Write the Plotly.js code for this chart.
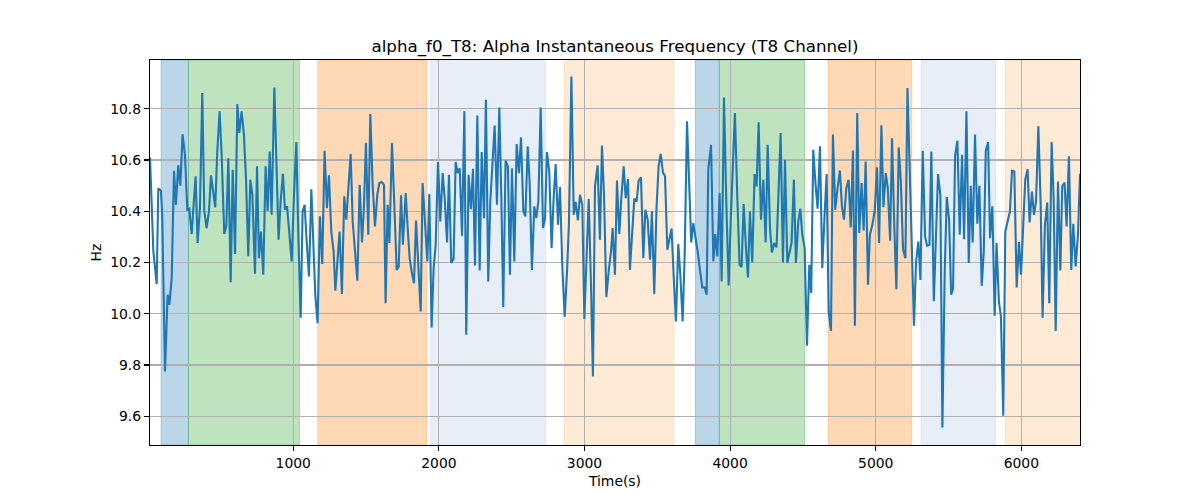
<!DOCTYPE html>
<html><head><meta charset="utf-8">
<script src="https://cdn.plot.ly/plotly-3.0.1.min.js"></script>
<style>body{margin:0;background:#fff}#chart{width:1200px;height:500px}</style>
</head><body><div id="chart"></div>
<script>
// Time (s) of each sample
const times = [
16,39,62,73,91,100,119,137,149,165,181,194,210,224,240,256,272,286,302,313,329,343,359,375,389,405,421,435,451,464,478,494,508,526,540,554,570,584,600,616,629,645,661,675,691,705,719,737,751,764,778,794,810,
824,838,851,870,883,899,913,929,943,957,970,989,1005,1021,1034,1051,1064,1078,1092,1108,1124,1137,1151,1167,1183,1199,1215,1231,1245,1261,1277,1289,1305,1318,1334,1350,1364,1380,1394,1408,1424,1440,1456,1472,1485,1499,1515,1529,1545,1561,1577,1591,1607,1623,1634,
1648,1660,1678,1694,1710,1724,1740,1753,1772,1785,1799,1813,1829,1843,1859,1875,1888,1905,1921,1934,1950,1964,1978,1994,2010,2026,2040,2056,2069,2085,2101,2115,2129,2143,2159,2175,2188,2204,2220,2234,2248,2264,2280,2294,2310,2323,2339,2353,2367,2383,2399,2415,2429,2442,2458,2474,2488,
2502,2518,2534,2550,2564,2580,2594,2610,2623,2639,2655,2669,2683,2699,2715,2729,2742,2758,2774,2788,2802,2818,2832,2848,2864,2880,2893,2910,2926,2939,2955,2969,2985,2999,3013,3029,3045,3058,3072,3090,3106,3120,3134,3150,3166,3182,3193,3209,3223,3239,3253,3269,3283,3299,3312,
3326,3342,3358,3372,3388,3404,3418,3434,3450,3463,3479,3495,3509,3523,3539,3553,3569,3582,3598,3612,3628,3644,3658,3674,3688,3704,3720,3733,3747,3763,3777,3793,3809,3825,3839,3850,3869,3885,3898,3912,3928,3942,3958,3974,3990,4004,4020,4033,4049,4065,4079,4093,4109,4123,4136,
4152,4168,4182,4196,4212,4228,4244,4258,4274,4287,4303,4319,4333,4347,4363,4377,4393,4406,4422,4438,4452,4468,4482,4496,4512,4528,4544,4557,4571,4587,4601,4617,4633,4649,4663,4677,4693,4706,4722,4738,4754,4768,4782,4798,4814,4828,4844,4857,4873,4887,4903,4917,4931,4947,4960,
4977,4993,5009,5023,5039,5053,5069,5083,5099,5112,5128,5142,5158,5172,5188,5204,5218,5234,5250,5263,5277,5293,5307,5323,5339,5353,5369,5382,5399,5412,5428,5444,5458,5474,5488,5504,5518,5531,5545,5561,5577,5593,5607,5623,5639,5653,5666,5682,5698,5712,5728,5742,5756,5772,5785,
5801,5817,5830,5846,5860,5876,5890,5906,5922,5936,5952,5968,5984,5998,6014,6027,6043,6057,6073,6087,6101,6117,6133,6146,6162,6178,6192,6208,6222,6236,6252,6268,6281,6297,6311,6327,6343,6357,6373,6389,6403
];
// Alpha instantaneous frequency (Hz)
const freqHz = [
10.61,10.243,10.116,10.49,10.48,10.386,9.775,10.074,10.035,10.139,10.558,10.425,10.579,10.50,10.70,10.62,10.406,10.41,10.311,10.412,10.536,10.276,10.412,10.861,10.40,10.334,10.40,10.54,10.464,10.415,10.633,10.79,10.62,10.311,10.341,10.607,10.123,10.562,10.233,10.818,10.705,10.79,10.699,10.53,10.224,10.523,10.464,10.156,10.575,10.217,10.321,10.152,10.575,
10.40,10.633,10.386,10.883,10.62,10.289,10.438,10.546,10.406,10.419,10.334,10.204,10.464,10.67,10.321,9.985,10.40,10.425,10.282,10.145,10.486,10.269,10.074,9.963,10.38,10.194,10.636,10.412,10.54,10.321,10.243,10.09,10.217,10.321,10.077,10.458,10.367,10.49,10.623,10.36,10.243,10.129,10.503,10.278,10.412,10.666,10.308,10.779,10.503,10.341,10.464,10.51,10.514,10.503,10.041,
10.425,10.276,10.666,10.425,10.171,10.184,10.462,10.269,10.471,10.341,10.217,10.165,10.119,10.364,10.178,10.009,10.51,10.347,10.204,10.467,9.946,10.178,10.269,10.592,10.36,10.549,10.451,10.278,10.542,10.198,10.214,10.592,10.549,10.568,10.304,10.79,9.918,10.542,10.408,10.566,10.188,10.773,10.169,10.631,10.373,10.835,10.126,10.438,10.568,10.734,10.425,10.805,10.451,10.026,10.597,10.575,10.152,
10.568,10.204,10.662,10.549,10.688,10.40,10.38,10.653,10.516,10.171,10.419,10.373,10.438,10.805,10.334,10.373,10.631,10.555,10.256,10.451,10.584,10.347,10.494,10.178,9.989,10.165,10.347,10.926,10.386,10.436,10.364,10.464,10.425,9.98,10.243,10.449,10.10,9.755,10.497,10.579,10.289,10.656,10.464,10.065,10.165,10.243,10.334,10.152,10.52,10.311,10.451,10.575,10.451,10.525,10.171,
10.308,10.449,10.438,10.519,10.532,10.217,10.406,10.367,10.211,10.40,10.077,10.419,10.575,10.624,10.551,10.536,10.25,10.289,10.332,10.152,9.97,10.272,10.152,9.97,10.23,10.751,10.49,10.278,10.354,10.302,10.243,10.171,10.103,10.103,10.074,10.562,10.659,10.204,10.311,10.224,10.471,10.126,10.844,10.432,10.11,10.36,10.62,10.783,10.464,10.191,10.182,10.428,10.256,10.142,10.40,
10.20,10.545,10.497,10.747,10.367,10.523,10.278,10.659,10.334,10.239,10.276,10.259,10.49,10.705,10.20,10.601,10.198,10.23,10.276,10.523,10.198,10.36,10.41,10.308,10.256,9.875,10.191,10.08,10.64,10.503,10.41,10.653,10.178,10.386,10.545,10.009,9.933,10.699,10.406,10.49,10.559,10.419,10.367,10.49,10.523,10.337,10.637,9.953,10.783,10.315,10.51,10.325,10.594,10.113,10.308,
10.347,10.40,10.571,10.276,10.735,10.416,10.549,10.49,10.285,10.685,10.334,10.096,10.649,10.523,10.25,10.217,10.881,10.568,10.289,9.953,10.204,10.282,10.132,10.636,10.302,10.265,10.269,10.633,10.05,10.295,10.545,10.464,9.556,10.168,10.455,10.367,10.074,10.096,10.617,10.675,10.308,10.62,10.291,10.79,10.198,10.499,10.278,10.699,10.351,10.499,10.109,10.243,10.636,10.67,10.295,
10.419,9.992,10.276,10.048,9.989,9.602,10.321,10.363,10.40,10.558,10.555,10.103,10.28,10.152,10.373,10.523,10.564,10.356,10.477,10.386,10.438,10.731,10.425,9.985,10.347,10.434,10.041,10.67,10.451,9.933,10.516,10.169,10.497,10.512,10.341,10.614,10.171,10.351,10.185,10.308,10.546
];
// Shaded intervals (start, end, colour class)
const spanStart = [92, 280, 1168, 1944, 2860, 3762, 3926, 4673, 5311, 5889];
const spanEnd   = [280, 1042, 1916, 2733, 3615, 3926, 4513, 5248, 5825, 6410];
const spanKind  = ['blue','green','orange','lightblue','lightorange','blue','green','orange','lightblue','lightorange'];
const kindRGB = {
  blue: '31,119,180', green: '44,160,44', orange: '255,127,14',
  lightblue: '174,199,232', lightorange: '255,187,120'
};

const shapes = spanStart.map((s, i) => ({
  type: 'rect', xref: 'x', yref: 'paper', x0: s, x1: spanEnd[i], y0: 0, y1: 1,
  fillcolor: 'rgba(' + kindRGB[spanKind[i]] + ',0.3)',
  line: {color: 'rgba(' + kindRGB[spanKind[i]] + ',0.3)', width: 1},
  layer: 'below'
}));

const trace = {
  x: times, y: freqHz, type: 'scatter', mode: 'lines',
  line: {color: '#1f77b4', width: 2.1}, hoverinfo: 'skip'
};

const font = {family: 'DejaVu Sans, sans-serif', size: 13.9, color: '#000'};
const layout = {
  width: 1200, height: 500,
  margin: {l: 150, r: 120, t: 60, b: 55, pad: 0},
  paper_bgcolor: '#fff', plot_bgcolor: '#fff',
  font: font,
  showlegend: false,
  title: {
    text: 'alpha_f0_T8: Alpha Instantaneous Frequency (T8 Channel)',
    font: {family: 'DejaVu Sans, sans-serif', size: 16.7, color: '#000'},
    x: 0.5125, xanchor: 'center', xref: 'container',
    y: 1 - 46/500, yanchor: 'middle', yref: 'container'
  },
  xaxis: {
    range: [16, 6403], tickvals: [1000,2000,3000,4000,5000,6000],
    ticks: 'outside', ticklen: 5, tickwidth: 1.1, tickcolor: '#000',
    showgrid: true, gridcolor: '#b0b0b0', gridwidth: 1.1,
    showline: true, linecolor: '#000', linewidth: 1.1, mirror: true,
    zeroline: false, automargin: false, tickfont: font,
    title: {text: 'Time(s)', font: font, standoff: 6}
  },
  yaxis: {
    range: [9.488, 10.99], tickvals: [9.6,9.8,10.0,10.2,10.4,10.6,10.8],
    ticktext: ['9.6','9.8','10.0','10.2','10.4','10.6','10.8'],
    ticks: 'outside', ticklen: 5, tickwidth: 1.1, tickcolor: '#000',
    showgrid: true, gridcolor: '#b0b0b0', gridwidth: 1.1,
    showline: true, linecolor: '#000', linewidth: 1.1, mirror: true,
    zeroline: false, automargin: false, tickfont: font,
    title: {text: 'Hz', font: font, standoff: 5}
  },
  shapes: shapes
};
Plotly.newPlot('chart', [trace], layout, {displayModeBar: false, staticPlot: true});
</script>
</body></html>
